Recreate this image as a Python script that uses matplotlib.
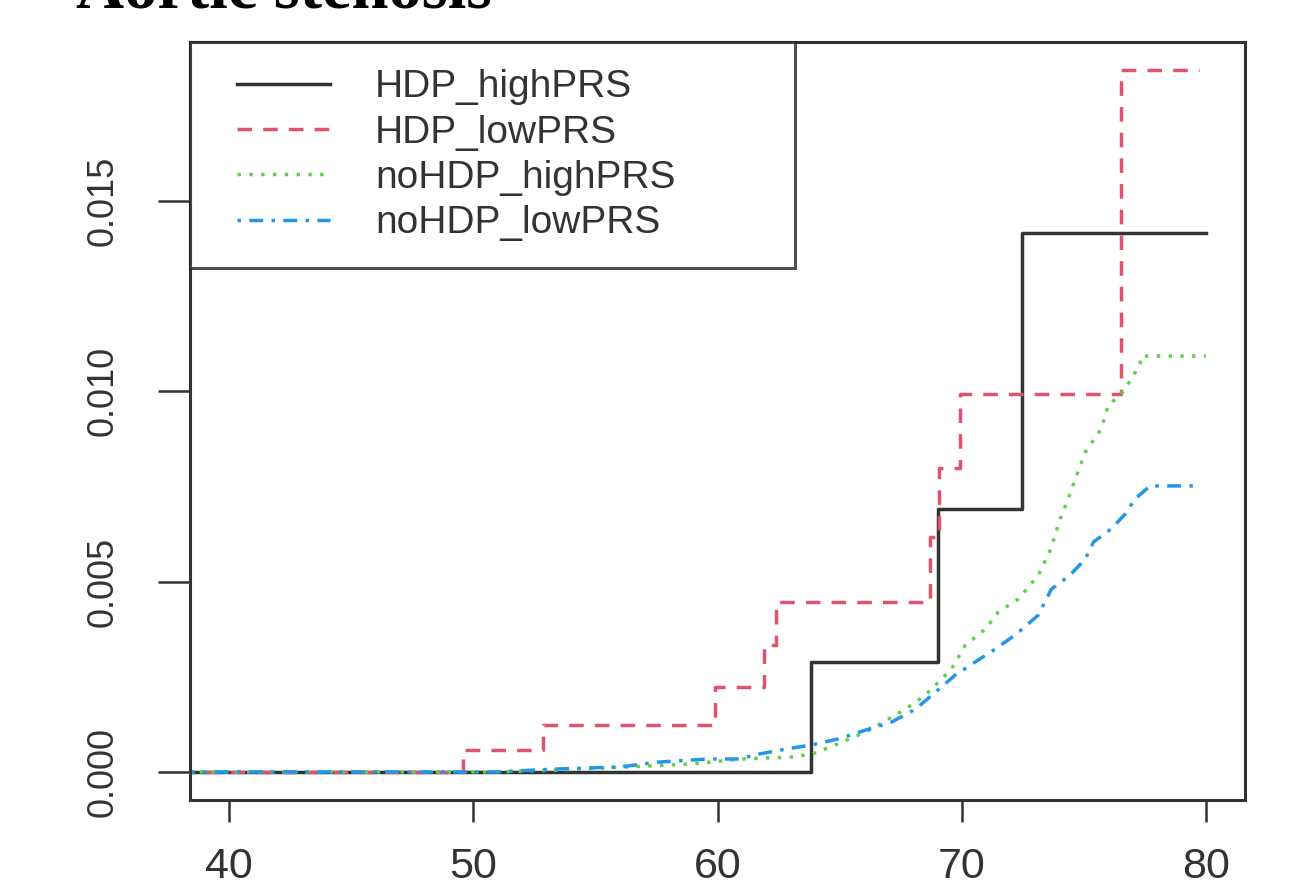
import matplotlib
matplotlib.use("Agg")
import matplotlib.pyplot as plt
from matplotlib.lines import Line2D
from matplotlib.legend_handler import HandlerLine2D

# ---------------- data ----------------
title = "Aortic stenosis"
labels = ["HDP_highPRS", "HDP_lowPRS", "noHDP_highPRS", "noHDP_lowPRS"]
colors = ["#333333", "#DF536B", "#61D04F", "#2297E6"]

# HDP_highPRS (step function)
hh_x = [30.0, 63.82, 69.01, 72.48, 80.0]
hh_y = [0.0, 0.00289, 0.00690, 0.01415, 0.01415]

# HDP_lowPRS (step function)
hl_x = [30.0, 49.56, 52.87, 59.90, 61.90, 62.39, 68.72, 69.09, 69.91, 76.53, 79.7]
hl_y = [0.0, 0.00058, 0.00123, 0.00223, 0.00333, 0.00446, 0.00617, 0.00798,
        0.00992, 0.01843, 0.01843]

# noHDP_highPRS (many small steps, read as a curve)
nh_x = [30.0, 50.95, 53.52, 56.26, 58.96, 61.00, 63.04, 63.86, 64.84, 65.78,
        66.31, 67.70, 68.52, 69.05, 69.58, 70.15, 70.97, 71.50, 72.32, 73.14,
        73.63, 74.03, 74.36, 74.65, 75.06, 75.71, 76.00, 76.53, 76.94, 77.30,
        77.35, 80.0]
nh_y = [0.0, 0.0, 0.00005, 0.00013, 0.00021, 0.00034, 0.00039, 0.00047, 0.00071,
        0.00097, 0.00113, 0.00165, 0.00202, 0.00236, 0.00270, 0.00333, 0.00375,
        0.00420, 0.00454, 0.00517, 0.00583, 0.00664, 0.00717, 0.00769, 0.00840,
        0.00900, 0.00963, 0.00992, 0.01031, 0.01071, 0.01092, 0.01092]

# noHDP_lowPRS (many small steps, read as a curve)
nl_x = [30.0, 50.95, 53.52, 55.98, 57.61, 59.65, 60.88, 61.70, 62.80, 63.86,
        64.96, 66.07, 67.13, 68.11, 68.93, 69.75, 70.56, 71.38, 72.20, 73.14,
        73.67, 74.44, 75.06, 75.40, 76.12, 76.69, 77.10, 77.71, 79.8]
nl_y = [0.0, 0.0, 0.00008, 0.00013, 0.00026, 0.00034, 0.00034, 0.00047, 0.00060,
        0.00071, 0.00087, 0.00110, 0.00131, 0.00165, 0.00210, 0.00255, 0.00289,
        0.00323, 0.00360, 0.00412, 0.00480, 0.00517, 0.00559, 0.00604, 0.00638,
        0.00677, 0.00717, 0.00751, 0.00751]

x_ticks = [40, 50, 60, 70, 80]
y_ticks = [0.000, 0.005, 0.010, 0.015]
y_ticklabels = ["0.000", "0.005", "0.010", "0.015"]
x_range = (40, 80)
y_range = (0.0, 0.01843)

# ---------------- figure ----------------
plt.rcParams["font.family"] = ["Liberation Sans", "DejaVu Sans"]
fig = plt.figure(figsize=(12.92, 8.88), dpi=100)
ax = fig.add_axes([190 / 1292, 1 - 800 / 888, (1245 - 190) / 1292, (800 - 42) / 888])

lw = 2.5
ax.plot(hh_x, hh_y, drawstyle="steps-post", color=colors[0], lw=lw,
        linestyle="-", label=labels[0])
ax.plot(hl_x, hl_y, drawstyle="steps-post", color=colors[1], lw=lw,
        linestyle=(0, (4.2, 3.2)), label=labels[1])
ax.plot(nh_x, nh_y, color=colors[2], lw=lw,
        linestyle=(0, (1, 2.4)), label=labels[2])
ax.plot(nl_x, nl_y, color=colors[3], lw=lw,
        linestyle=(0, (1, 2.4, 4, 2.4)), label=labels[3])

# R style 4% axis extension
dx = (x_range[1] - x_range[0]) * 0.04
dy = (y_range[1] - y_range[0]) * 0.04
ax.set_xlim(x_range[0] - dx, x_range[1] + dx)
ax.set_ylim(y_range[0] - dy, y_range[1] + dy)

ax.set_xticks(x_ticks)
ax.set_xticklabels([str(v) for v in x_ticks])
ax.set_yticks(y_ticks)
ax.set_yticklabels(y_ticklabels, rotation=90, va="center")

for s in ax.spines.values():
    s.set_linewidth(2.2)
    s.set_color("#333333")
ax.tick_params(axis="x", length=16, width=1.8, color="#333333", pad=18,
               labelsize=31, labelcolor="#333333")
ax.tick_params(axis="y", length=23, width=1.8, color="#333333", pad=27,
               labelsize=26, labelcolor="#333333")

fs = 28
leg = ax.legend(loc="upper left", bbox_to_anchor=(0, 1.0, 0.5735, 0.0),
                mode="expand", borderaxespad=0, fontsize=fs, frameon=True,
                fancybox=False, edgecolor="#222222", handlelength=2.9,
                handletextpad=1.16, borderpad=0.7, labelspacing=0.24,
                handler_map={Line2D: HandlerLine2D(xpad=0.51)})
leg.get_frame().set_linewidth(2.2)
for t in leg.get_texts():
    t.set_color("#333333")

fig.text(76 / 1292, 1 - 8 / 888, title, family=["Liberation Serif", "DejaVu Serif"],
         fontweight="bold", fontsize=48, va="baseline", ha="left", color="black")

fig.savefig("out.png", dpi=100, facecolor="white")
